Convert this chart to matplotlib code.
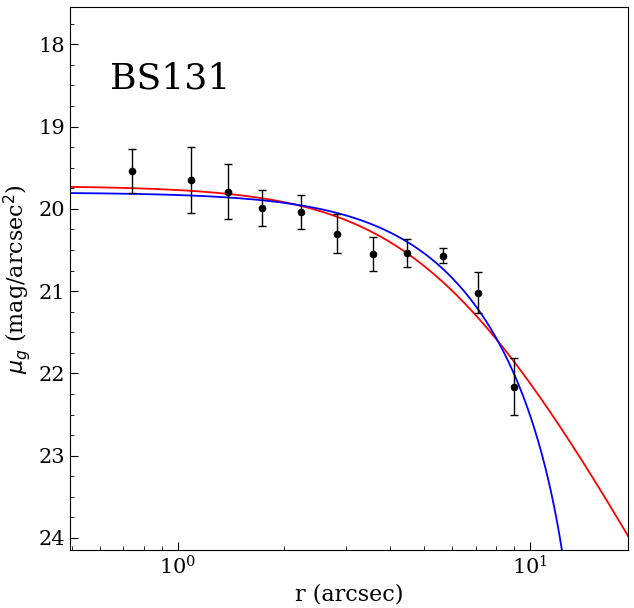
import matplotlib.pyplot as plt
import numpy as np

plt.rcParams['font.family'] = 'DejaVu Serif'

# surface brightness profile of BS131
r = [0.74, 1.09, 1.39, 1.73, 2.24, 2.83, 3.58, 4.47, 5.66, 7.13, 8.97]
mu = [19.54, 19.65, 19.79, 19.99, 20.04, 20.30, 20.55, 20.54, 20.57, 21.02, 22.16]
mu_err = [0.27, 0.40, 0.33, 0.22, 0.21, 0.24, 0.21, 0.17, 0.09, 0.25, 0.35]

# model fits: EFF (red) and King (blue)
eff_mu0, eff_a, eff_gamma = 19.72, 5.7, 3.15
king_mu0, king_rc, king_rt = 19.80, 8.0, 14.85


def eff(x):
    return eff_mu0 + 1.25 * eff_gamma * np.log10(1 + (x / eff_a) ** 2)


def king(x):
    c = (1 + (king_rt / king_rc) ** 2) ** -0.5
    u = (1 + (x / king_rc) ** 2) ** -0.5
    return king_mu0 - 5 * np.log10((u - c) / (1 - c))


rr = np.logspace(np.log10(0.45), np.log10(20), 600)
rk = np.logspace(np.log10(0.45), np.log10(king_rt * 0.99999), 600)

fig, ax = plt.subplots(figsize=(6.34, 6.08), dpi=100)
ax.plot(rr, eff(rr), color='red', lw=1.3)
ax.plot(rk, king(rk), color='blue', lw=1.3)
ax.errorbar(r, mu, yerr=mu_err, fmt='o', color='black', ms=4.5,
            elinewidth=1, capsize=3, capthick=1)

ax.set_xscale('log')
ax.set_xlim(0.493, 18.98)
ax.set_ylim(24.15, 17.55)
ax.set_yticks([18, 19, 20, 21, 22, 23, 24])
ax.set_yticks(np.arange(17.75, 24.2, 0.25), minor=True)
ax.tick_params(which='both', direction='in', labelsize=15)
ax.tick_params(which='major', length=6)
ax.tick_params(which='minor', length=3)

ax.set_xlabel('r (arcsec)', fontsize=16)
ax.set_ylabel(r'$\mu_g$ (mag/arcsec$^2$)', fontsize=16)
ax.text(0.072, 0.869, 'BS131', transform=ax.transAxes, fontsize=26,
        va='center', ha='left')

fig.subplots_adjust(left=0.110, right=0.991, top=0.988, bottom=0.095)
fig.savefig('out.png')
